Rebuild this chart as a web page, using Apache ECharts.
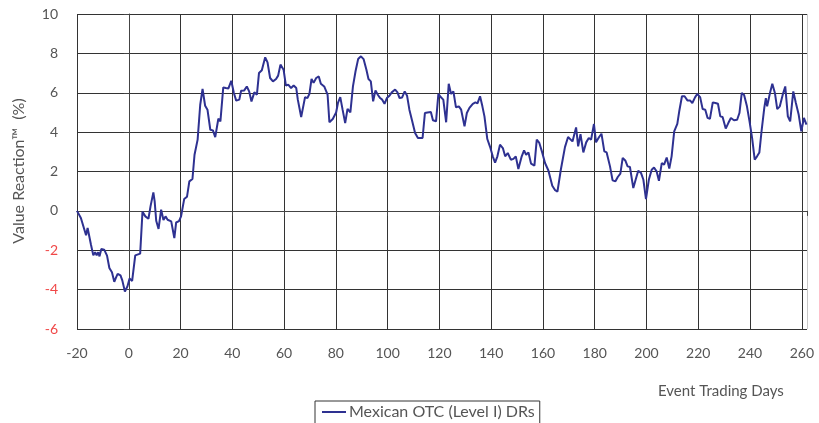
<!DOCTYPE html>
<html>
<head>
<meta charset="utf-8">
<script src="https://cdn.jsdelivr.net/npm/echarts@6/dist/echarts.min.js"></script>
<style>html,body{margin:0;padding:0;background:#fff}#c{width:819px;height:423px}</style>
</head>
<body>
<div id="c"></div>
<script>
// Event trading days (read at the line's vertices) and Value Reaction (%)
const days = [-20.0,-18.5,-16.5,-15.9,-15.4,-14.6,-13.7,-13.0,-12.4,-11.8,-11.3,-10.6,-9.5,-8.4,-7.5,-6.5,-5.6,-4.9,-4.3,-3.2,-2.5,-1.5,-0.5,0.3,1.3,2.5,3.2,4.4,5.3,6.4,7.6,8.4,9.5,10.0,10.6,11.5,12.5,13.4,14.2,15.0,16.4,17.6,18.3,19.4,20.2,21.4,22.5,23.4,24.6,25.4,26.6,27.6,28.5,29.5,30.4,31.5,32.5,33.4,34.6,35.4,36.5,37.5,38.5,39.6,40.6,41.5,42.7,43.4,44.6,45.6,46.5,47.4,48.5,49.5,50.3,51.4,52.7,53.6,54.6,55.7,56.9,57.7,58.6,59.8,60.7,61.6,62.7,63.7,64.7,65.3,66.6,68.1,69.0,69.8,70.6,71.4,72.4,73.4,74.2,75.5,76.8,77.5,78.8,80.1,80.8,81.7,82.6,83.6,84.5,85.6,86.6,87.6,88.6,89.7,90.7,91.8,92.6,93.5,94.4,95.3,96.2,97.1,97.9,98.8,99.7,100.7,101.6,102.9,103.8,104.6,105.6,106.6,107.5,108.4,109.5,110.6,111.7,113.5,114.4,115.4,116.7,117.5,118.7,119.6,120.5,121.5,122.6,123.6,124.5,125.4,126.4,127.5,128.4,129.7,130.6,131.6,132.9,133.9,134.7,135.7,136.6,137.4,138.5,139.6,140.6,141.5,142.4,143.4,144.5,145.4,146.4,147.6,148.6,149.5,150.5,151.8,152.7,153.5,154.4,155.4,156.7,157.6,158.6,159.7,160.8,162.1,163.6,164.7,165.6,166.9,168.5,169.7,171.4,172.8,173.6,174.5,175.6,176.7,177.7,178.6,179.7,180.5,181.7,182.6,183.7,184.6,185.9,186.9,188.0,188.9,189.9,190.8,191.8,192.7,193.6,194.9,195.8,196.8,197.9,198.8,199.8,200.9,202.0,202.9,203.9,204.8,205.9,206.8,207.8,208.8,209.7,210.7,211.9,212.7,213.7,214.7,215.8,216.8,217.7,218.8,219.6,220.7,221.7,222.7,223.6,224.5,225.6,226.6,227.6,228.5,229.4,230.6,231.6,232.6,233.8,235.0,235.9,236.8,237.7,238.8,239.8,240.8,241.8,242.7,243.6,244.5,245.5,246.1,246.6,247.7,248.6,249.6,250.5,251.5,252.6,253.6,254.6,255.5,256.7,257.7,258.8,259.8,260.8,261.8];
const values = [0.00,-0.36,-1.24,-0.87,-0.84,-1.72,-2.26,-2.10,-2.26,-2.10,-2.31,-1.94,-1.97,-2.27,-2.90,-3.12,-3.60,-3.38,-3.20,-3.28,-3.53,-4.10,-3.83,-3.44,-3.56,-2.26,-2.34,-2.17,-0.04,-0.28,-0.40,0.23,0.94,0.48,-0.50,-0.92,0.06,-0.46,-0.28,-0.45,-0.53,-1.38,-0.59,-0.52,-0.28,0.60,0.72,1.50,1.62,2.85,3.62,5.39,6.19,5.34,5.14,4.12,4.09,3.75,4.68,4.55,6.27,6.24,6.22,6.61,5.99,5.60,5.65,6.10,6.12,6.32,6.07,5.56,6.02,5.90,7.00,7.14,7.80,7.54,6.75,6.58,6.70,6.87,7.43,7.17,6.36,6.41,6.24,6.37,6.24,5.65,4.77,5.78,5.73,5.95,6.70,6.50,6.75,6.83,6.46,6.32,5.90,4.50,4.67,5.00,5.48,5.78,5.14,4.46,5.18,5.00,6.32,7.09,7.71,7.85,7.71,7.17,6.70,6.58,5.56,6.12,5.90,5.73,5.65,5.44,5.73,5.85,6.02,6.16,6.02,5.73,5.76,6.07,5.85,5.14,4.55,3.96,3.70,3.70,4.97,5.00,5.02,4.60,4.55,5.94,5.78,5.65,4.50,6.46,5.94,6.07,5.26,5.31,5.14,4.29,4.97,5.23,5.44,5.51,5.46,5.82,5.31,4.80,3.65,3.24,2.77,2.45,2.77,3.36,3.19,2.77,2.94,2.60,2.64,2.77,2.13,2.77,3.07,2.85,2.97,2.40,2.30,3.62,3.45,2.97,2.43,2.05,1.28,1.05,0.98,2.09,3.24,3.75,3.53,4.24,3.28,3.90,2.97,3.48,3.70,3.62,4.41,3.48,3.75,3.92,3.02,2.97,2.26,1.55,1.50,1.72,1.89,2.69,2.56,2.26,2.23,1.16,1.58,2.04,1.92,1.58,0.60,1.58,2.09,2.20,2.01,1.53,2.43,2.35,2.71,2.15,2.77,4.04,4.42,5.10,5.82,5.82,5.61,5.61,5.48,5.78,5.94,5.78,5.17,5.14,4.72,4.67,5.51,5.48,5.44,4.80,4.77,4.18,4.46,4.72,4.60,4.63,4.97,5.99,5.89,5.31,4.55,3.70,2.60,2.77,2.97,4.12,5.23,5.73,5.31,5.99,6.46,5.99,5.17,5.31,5.89,6.32,4.80,4.55,6.07,5.48,4.88,4.04,4.72,4.38];
const seriesName = 'Mexican OTC (Level I) DRs';
const yAxisTitle = 'Value Reaction\u2122  (%)';
const xAxisTitle = 'Event Trading Days';

const data = days.map((d, i) => [d, values[i]]);
const FONT = 'Lato, "Open Sans", sans-serif';
const grid16 = [];
for (let i = 0; i < 15; i++) grid16.push('#333');
grid16.push('#c8c8c8');

const chart = echarts.init(document.getElementById('c'), null, {renderer: 'canvas'});
chart.setOption({
  animation: false,
  backgroundColor: '#fff',
  grid: {left: 77, right: 12, top: 14, bottom: 94, containLabel: false},
  xAxis: {
    type: 'value', min: -20, max: 262, interval: 20,
    axisLine: {show: true, lineStyle: {color: '#444', width: 1}},
    axisTick: {show: true, inside: false, length: 5, lineStyle: {color: '#444'}},
    axisLabel: {
      margin: 17, color: '#555', fontFamily: FONT, fontSize: 14,
      formatter: v => (v % 20 === 0 ? String(v) : '')
    },
    splitLine: {show: true, lineStyle: {color: grid16, width: 1}}
  },
  yAxis: {
    type: 'value', min: -6, max: 10, interval: 2,
    axisLine: {show: true, lineStyle: {color: '#444', width: 1}},
    axisTick: {show: true, inside: false, length: 5, lineStyle: {color: '#444'}},
    axisLabel: {
      margin: 19, fontFamily: FONT, fontSize: 14,
      color: v => (Number(v) < 0 ? '#f04848' : '#555')
    },
    splitLine: {show: true, lineStyle: {color: '#333', width: 1}}
  },
  legend: {
    left: 315, top: 401,
    data: [seriesName],
    icon: 'rect', itemWidth: 24, itemHeight: 2, itemGap: 4,
    borderColor: '#333', borderWidth: 1, borderRadius: 0,
    padding: [3, 5, 12, 7],
    textStyle: {color: '#555', fontFamily: FONT, fontSize: 16, padding: [0, 0, 0, -2]}
  },
  graphic: [{
    type: 'text', left: 658, top: 384,
    style: {text: xAxisTitle, fill: '#555', font: '15px ' + FONT}
  }, {
    type: 'text', x: 19, y: 171, rotation: Math.PI / 2,
    style: {text: yAxisTitle, fill: '#555', font: '16px ' + FONT, align: 'center', verticalAlign: 'middle'}
  }],
  series: [{
    name: seriesName, type: 'line', data: data,
    showSymbol: false, symbol: 'none',
    lineStyle: {color: '#2e3191', width: 2},
    itemStyle: {color: '#2e3191'}
  }]
});
</script>
</body>
</html>
